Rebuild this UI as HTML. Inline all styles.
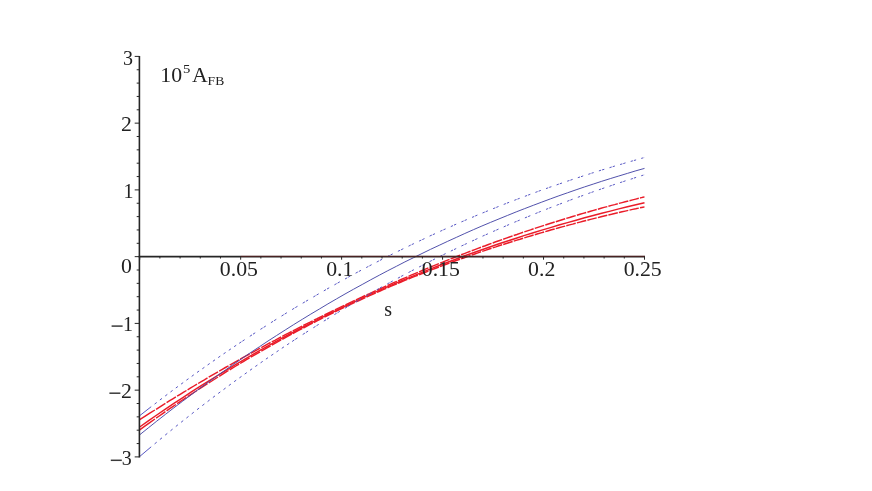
<!DOCTYPE html>
<html><head><meta charset="utf-8"><style>
html,body{margin:0;padding:0;background:#fff;}
svg{display:block;will-change:transform}
text{font-family:"Liberation Serif",serif;font-size:20px;fill:#222}
</style></head><body>
<svg width="872" height="491" viewBox="0 0 872 491">
<rect width="872" height="491" fill="#fff"/>
<path d="M139.7,419.7 L144.8,416.4 L149.8,413.2 L154.9,410.0 M156.1,409.3 L159.2,407.3 L162.3,405.3 L165.4,403.4 M166.6,402.7 L169.7,400.7 L172.8,398.8 L175.9,396.9 M177.1,396.2 L180.2,394.3 L183.3,392.4 L186.5,390.5 M187.6,389.8 L190.7,387.9 L193.9,386.0 L197.0,384.1 M198.1,383.5 L201.3,381.6 L204.4,379.8 L207.5,377.9 M208.7,377.2 L211.8,375.4 L214.9,373.6 L218.0,371.8 M219.2,371.1 L222.3,369.3 L225.4,367.5 L228.5,365.8 M229.7,365.1 L232.8,363.3 L235.9,361.6 L239.1,359.8 M240.2,359.2 L243.3,357.4 L246.5,355.7 L249.6,354.0 M250.7,353.3 L253.9,351.6 L257.0,349.9 L260.1,348.2 M261.3,347.6 L264.4,345.9 L267.5,344.2 L270.6,342.5 M271.8,341.9 L274.9,340.3 L278.0,338.6 L281.1,337.0 M282.3,336.4 L285.4,334.7 L288.5,333.1 L291.7,331.5 M292.8,330.9 L295.9,329.3 L299.1,327.7 L302.2,326.1 M303.3,325.5 L306.5,323.9 L309.6,322.4 L312.7,320.8 M313.9,320.2 L317.0,318.7 L320.1,317.1 L323.2,315.6 M324.4,315.0 L327.5,313.5 L330.6,312.0 L333.7,310.4 M334.9,309.9 L338.0,308.4 L341.1,306.9 L344.3,305.4 M345.4,304.8 L348.5,303.4 L351.7,301.9 L354.8,300.4 M355.9,299.9 L359.1,298.4 L362.2,297.0 L365.3,295.5 M366.5,295.0 L369.6,293.6 L372.7,292.1 L375.8,290.7 M377.0,290.2 L380.1,288.8 L383.2,287.4 L386.3,286.0 M387.5,285.5 L390.6,284.1 L393.7,282.7 L396.9,281.3 M398.0,280.8 L401.1,279.5 L404.3,278.1 L407.4,276.8 M408.5,276.3 L411.7,274.9 L414.8,273.6 L417.9,272.3 M419.1,271.8 L422.2,270.5 L425.3,269.2 L428.4,267.9 M429.6,267.4 L432.7,266.1 L435.8,264.8 L438.9,263.6 M440.1,263.1 L443.2,261.9 L446.3,260.6 L449.5,259.4 M450.6,258.9 L453.7,257.7 L456.9,256.4 L460.0,255.2 M461.1,254.8 L464.3,253.6 L467.4,252.4 L470.5,251.2 M471.7,250.8 L474.8,249.6 L477.9,248.4 L481.0,247.2 M482.2,246.8 L485.3,245.7 L488.4,244.5 L491.5,243.4 M492.7,243.0 L495.8,241.8 L498.9,240.7 L502.1,239.6 M503.2,239.2 L506.3,238.1 L509.5,237.0 L512.6,235.9 M513.7,235.5 L516.9,234.5 L520.0,233.4 L523.1,232.3 M524.3,231.9 L527.4,230.9 L530.5,229.9 L533.6,228.8 M534.8,228.4 L537.9,227.4 L541.0,226.4 L544.1,225.4 M545.3,225.0 L548.4,224.0 L551.5,223.0 L554.7,222.0 M555.8,221.7 L558.9,220.7 L562.1,219.7 L565.2,218.8 M566.3,218.4 L569.5,217.5 L572.6,216.5 L575.7,215.6 M576.9,215.3 L580.0,214.3 L583.1,213.4 L586.2,212.5 M587.4,212.2 L590.5,211.3 L593.6,210.4 L596.7,209.5 M597.9,209.2 L601.0,208.3 L604.1,207.4 L607.3,206.6 M608.4,206.3 L611.5,205.4 L614.7,204.6 L617.8,203.7 M618.9,203.4 L622.1,202.6 L625.2,201.8 L628.3,201.0 M629.5,200.7 L632.6,199.9 L635.7,199.1 L638.8,198.3 M640.0,198.0 L641.5,197.6 L643.0,197.2 L644.5,196.9" fill="none" stroke="#ea1c29" stroke-width="1.45"/>
<path d="M139.7,429.9 L144.8,426.2 L149.8,422.6 L154.9,419.0 M156.1,418.2 L159.2,416.0 L162.3,413.8 L165.4,411.7 M166.6,410.9 L169.7,408.7 L172.8,406.6 L175.9,404.5 M177.1,403.7 L180.2,401.6 L183.3,399.5 L186.5,397.4 M187.6,396.6 L190.7,394.6 L193.9,392.5 L197.0,390.5 M198.1,389.7 L201.3,387.7 L204.4,385.7 L207.5,383.7 M208.7,383.0 L211.8,381.0 L214.9,379.0 L218.0,377.0 M219.2,376.3 L222.3,374.4 L225.4,372.4 L228.5,370.5 M229.7,369.8 L232.8,367.9 L235.9,366.0 L239.1,364.1 M240.2,363.5 L243.3,361.6 L246.5,359.7 L249.6,357.9 M250.7,357.2 L253.9,355.4 L257.0,353.6 L260.1,351.8 M261.3,351.1 L264.4,349.3 L267.5,347.5 L270.6,345.8 M271.8,345.1 L274.9,343.4 L278.0,341.6 L281.1,339.9 M282.3,339.3 L285.4,337.6 L288.5,335.9 L291.7,334.2 M292.8,333.6 L295.9,331.9 L299.1,330.2 L302.2,328.6 M303.3,328.0 L306.5,326.3 L309.6,324.7 L312.7,323.1 M313.9,322.5 L317.0,320.9 L320.1,319.3 L323.2,317.7 M324.4,317.2 L327.5,315.6 L330.6,314.0 L333.7,312.5 M334.9,311.9 L338.0,310.4 L341.1,308.9 L344.3,307.4 M345.4,306.9 L348.5,305.4 L351.7,303.9 L354.8,302.4 M355.9,301.9 L359.1,300.5 L362.2,299.0 L365.3,297.6 M366.5,297.1 L369.6,295.7 L372.7,294.3 L375.8,292.9 M377.0,292.4 L380.1,291.0 L383.2,289.6 L386.3,288.3 M387.5,287.8 L390.6,286.4 L393.7,285.1 L396.9,283.8 M398.0,283.3 L401.1,282.0 L404.3,280.7 L407.4,279.4 M408.5,279.0 L411.7,277.7 L414.8,276.4 L417.9,275.2 M419.1,274.7 L422.2,273.5 L425.3,272.3 L428.4,271.0 M429.6,270.6 L432.7,269.4 L435.8,268.2 L438.9,267.0 M440.1,266.6 L443.2,265.4 L446.3,264.2 L449.5,263.0 M450.6,262.6 L453.7,261.5 L456.9,260.3 L460.0,259.2 M461.1,258.8 L464.3,257.7 L467.4,256.6 L470.5,255.5 M471.7,255.1 L474.8,254.0 L477.9,252.9 L481.0,251.8 M482.2,251.4 L485.3,250.4 L488.4,249.3 L491.5,248.3 M492.7,247.9 L495.8,246.9 L498.9,245.8 L502.1,244.8 M503.2,244.5 L506.3,243.5 L509.5,242.5 L512.6,241.5 M513.7,241.1 L516.9,240.1 L520.0,239.2 L523.1,238.2 M524.3,237.9 L527.4,236.9 L530.5,236.0 L533.6,235.0 M534.8,234.7 L537.9,233.8 L541.0,232.9 L544.1,232.0 M545.3,231.6 L548.4,230.7 L551.5,229.8 L554.7,229.0 M555.8,228.6 L558.9,227.8 L562.1,226.9 L565.2,226.1 M566.3,225.7 L569.5,224.9 L572.6,224.1 L575.7,223.2 M576.9,222.9 L580.0,222.1 L583.1,221.3 L586.2,220.5 M587.4,220.2 L590.5,219.4 L593.6,218.6 L596.7,217.9 M597.9,217.6 L601.0,216.8 L604.1,216.0 L607.3,215.3 M608.4,215.0 L611.5,214.3 L614.7,213.5 L617.8,212.8 M618.9,212.5 L622.1,211.8 L625.2,211.1 L628.3,210.4 M629.5,210.1 L632.6,209.4 L635.7,208.8 L638.8,208.1 M640.0,207.8 L641.5,207.5 L643.0,207.2 L644.5,206.9" fill="none" stroke="#ea1c29" stroke-width="1.45"/>
<path d="M139.7,427.0 L148.3,420.9 L156.8,415.0 L165.4,409.2 L173.9,403.4 L182.5,397.8 L191.0,392.2 L199.6,386.7 L208.1,381.3 L216.7,376.0 L225.3,370.8 L233.8,365.7 L242.4,360.6 L250.9,355.6 L259.5,350.7 L268.0,345.9 L276.6,341.2 L285.2,336.5 L293.7,332.0 L302.3,327.5 L310.8,323.1 L319.4,318.7 L327.9,314.5 L336.5,310.3 L345.0,306.1 L353.6,302.1 L362.2,298.1 L370.7,294.2 L379.3,290.4 L387.8,286.6 L396.4,283.0 L404.9,279.3 L413.5,275.8 L422.0,272.3 L430.6,268.9 L439.2,265.5 L447.7,262.2 L456.3,259.0 L464.8,255.8 L473.4,252.8 L481.9,249.7 L490.5,246.7 L499.0,243.8 L507.6,241.0 L516.2,238.2 L524.7,235.4 L533.3,232.8 L541.8,230.1 L550.4,227.6 L558.9,225.0 L567.5,222.6 L576.1,220.2 L584.6,217.8 L593.2,215.5 L601.7,213.3 L610.3,211.1 L618.8,208.9 L627.4,206.8 L635.9,204.8 L644.5,202.7" fill="none" stroke="#ea1c29" stroke-width="1.45"/>
<path d="M139.7,415.7 L151.2,406.7 M154.6,404.1 L156.7,402.5 M159.9,400.0 L162.0,398.4 M165.2,396.0 L167.3,394.4 M170.5,392.0 L172.6,390.4 M175.8,388.0 L177.9,386.5 M181.1,384.1 L183.2,382.6 M186.4,380.2 L188.5,378.7 M191.7,376.4 L193.8,374.8 M197.0,372.5 L199.1,371.0 M202.3,368.8 L204.4,367.3 M207.6,365.0 L209.7,363.5 M212.9,361.3 L215.0,359.8 M218.2,357.6 L220.3,356.1 M223.5,353.9 L225.6,352.5 M228.8,350.3 L230.9,348.9 M234.1,346.7 L236.2,345.3 M239.2,343.3 L241.4,341.8 M242.4,341.2 L244.6,339.7 M249.8,336.3 L252.0,334.9 M253.0,334.2 L255.2,332.8 M260.4,329.4 L262.6,328.0 M263.6,327.4 L265.8,326.0 M270.9,322.7 L273.1,321.3 M274.1,320.7 L276.3,319.3 M281.5,316.1 L283.7,314.7 M284.7,314.1 L286.9,312.7 M292.1,309.6 L294.3,308.2 M295.3,307.6 L297.5,306.3 M302.7,303.2 L304.9,301.9 M305.9,301.3 L308.1,300.0 M313.3,297.0 L315.5,295.7 M316.5,295.1 L318.7,293.8 M323.8,290.9 L326.0,289.6 M327.0,289.0 L329.2,287.8 M334.4,284.9 L336.6,283.6 M337.6,283.1 L339.8,281.8 M345.0,279.0 L347.2,277.8 M348.2,277.2 L350.4,276.0 M355.6,273.2 L357.8,272.0 M358.8,271.5 L361.0,270.3 M366.2,267.6 L368.4,266.4 M369.4,265.9 L371.6,264.7 M376.7,262.1 L378.9,260.9 M379.9,260.4 L382.1,259.3 M387.3,256.6 L389.5,255.5 M390.5,255.0 L392.7,253.9 M397.9,251.3 L400.1,250.3 M401.1,249.8 L403.3,248.7 M408.5,246.2 L410.7,245.1 M411.7,244.6 L413.9,243.6 M419.1,241.1 L421.3,240.1 M422.3,239.6 L424.5,238.6 M429.6,236.1 L431.8,235.1 M432.8,234.7 L435.0,233.7 M440.2,231.3 L442.4,230.3 M443.4,229.8 L445.6,228.9 M450.8,226.6 L453.0,225.6 M454.0,225.1 L456.2,224.2 M461.4,221.9 L463.6,221.0 M464.6,220.5 L466.8,219.6 M472.0,217.4 L474.2,216.5 M475.2,216.0 L477.4,215.1 M482.5,213.0 L484.7,212.1 M485.7,211.7 L487.9,210.8 M493.1,208.7 L495.3,207.8 M496.3,207.4 L498.5,206.5 M503.7,204.4 L505.9,203.6 M506.9,203.2 L509.1,202.3 M514.3,200.3 L516.5,199.5 M517.5,199.1 L519.7,198.3 M524.9,196.3 L527.1,195.5 M528.1,195.1 L530.3,194.3 M535.4,192.4 L537.6,191.6 M538.6,191.2 L540.8,190.4 M546.0,188.6 L548.2,187.8 M549.2,187.4 L551.4,186.7 M556.6,184.9 L558.8,184.1 M559.8,183.8 L562.0,183.0 M567.2,181.2 L569.4,180.5 M570.4,180.2 L572.6,179.4 M577.8,177.7 L580.0,177.0 M581.0,176.7 L583.2,175.9 M588.3,174.3 L590.5,173.6 M591.5,173.2 L593.7,172.6 M598.9,170.9 L601.1,170.2 M602.1,169.9 L604.3,169.3 M609.5,167.7 L611.7,167.0 M612.7,166.7 L614.9,166.0 M620.1,164.5 L622.3,163.9 M623.3,163.6 L625.5,162.9 M630.7,161.4 L632.9,160.8 M633.9,160.5 L636.1,159.9 M641.2,158.4 L643.4,157.8 M644.4,157.6 L644.5,157.5" fill="none" stroke="#5858c4" stroke-width="1"/>
<path d="M139.7,456.5 L151.2,446.8 M154.6,443.9 L156.7,442.2 M159.9,439.5 L162.0,437.8 M165.2,435.1 L167.3,433.4 M170.5,430.8 L172.6,429.1 M175.8,426.5 L177.9,424.8 M181.1,422.3 L183.2,420.6 M186.4,418.1 L188.5,416.4 M191.7,413.9 L193.8,412.2 M197.0,409.7 L199.1,408.1 M202.3,405.6 L204.4,404.0 M207.6,401.6 L209.7,399.9 M212.9,397.5 L215.0,395.9 M218.2,393.5 L220.3,391.9 M223.5,389.6 L225.6,388.0 M228.8,385.6 L230.9,384.1 M234.1,381.7 L236.2,380.2 M239.4,377.9 L241.5,376.4 M244.7,374.1 L246.8,372.6 M250.0,370.3 L252.1,368.8 M255.3,366.5 L257.4,365.1 M260.6,362.8 L262.7,361.4 M265.9,359.1 L268.0,357.7 M271.2,355.5 L273.3,354.1 M276.5,351.9 L278.6,350.5 M281.8,348.3 L283.9,346.9 M287.1,344.8 L289.2,343.4 M292.1,341.5 L294.3,340.0 M295.3,339.4 L297.5,337.9 M302.7,334.5 L304.9,333.1 M305.9,332.5 L308.1,331.1 M313.3,327.8 L315.5,326.4 M316.5,325.7 L318.7,324.4 M323.8,321.1 L326.0,319.8 M327.0,319.1 L329.2,317.8 M334.4,314.6 L336.6,313.3 M337.6,312.7 L339.8,311.3 M345.0,308.2 L347.2,306.9 M348.2,306.3 L350.4,305.0 M355.6,302.0 L357.8,300.7 M358.8,300.1 L361.0,298.8 M366.2,295.8 L368.4,294.6 M369.4,294.0 L371.6,292.7 M376.7,289.8 L378.9,288.6 M379.9,288.0 L382.1,286.8 M387.3,283.9 L389.5,282.7 M390.5,282.2 L392.7,281.0 M397.9,278.2 L400.1,277.0 M401.1,276.4 L403.3,275.3 M408.5,272.5 L410.7,271.4 M411.7,270.8 L413.9,269.7 M419.1,267.0 L421.3,265.9 M422.3,265.3 L424.5,264.2 M429.6,261.6 L431.8,260.5 M432.8,260.0 L435.0,258.9 M440.2,256.3 L442.4,255.2 M443.4,254.7 L445.6,253.6 M450.8,251.1 L453.0,250.0 M454.0,249.6 L456.2,248.5 M461.4,246.0 L463.6,245.0 M464.6,244.5 L466.8,243.5 M472.0,241.1 L474.2,240.1 M475.2,239.6 L477.4,238.6 M482.5,236.2 L484.7,235.2 M485.7,234.8 L487.9,233.8 M493.1,231.5 L495.3,230.5 M496.3,230.1 L498.5,229.1 M503.7,226.9 L505.9,225.9 M506.9,225.5 L509.1,224.5 M514.3,222.3 L516.5,221.4 M517.5,221.0 L519.7,220.1 M524.9,217.9 L527.1,217.0 M528.1,216.6 L530.3,215.7 M535.4,213.6 L537.6,212.7 M538.6,212.3 L540.8,211.4 M546.0,209.4 L548.2,208.5 M549.2,208.1 L551.4,207.3 M556.6,205.3 L558.8,204.4 M559.8,204.1 L562.0,203.2 M567.2,201.3 L569.4,200.4 M570.4,200.1 L572.6,199.2 M577.8,197.3 L580.0,196.5 M581.0,196.2 L583.2,195.4 M588.3,193.5 L590.5,192.7 M591.5,192.4 L593.7,191.6 M598.9,189.8 L601.1,189.0 M602.1,188.7 L604.3,187.9 M609.5,186.2 L611.7,185.4 M612.7,185.1 L614.9,184.3 M620.1,182.6 L622.3,181.9 M623.3,181.6 L625.5,180.8 M630.7,179.2 L632.9,178.5 M633.9,178.1 L636.1,177.4 M641.2,175.8 L643.4,175.1 M644.4,174.8 L644.5,174.8" fill="none" stroke="#5858c4" stroke-width="1"/>
<path d="M139.7,434.8 L148.3,427.9 L156.8,421.1 L165.4,414.4 L173.9,407.8 L182.5,401.3 L191.0,394.9 L199.6,388.5 L208.1,382.3 L216.7,376.1 L225.3,370.1 L233.8,364.1 L242.4,358.2 L250.9,352.4 L259.5,346.7 L268.0,341.0 L276.6,335.5 L285.2,330.0 L293.7,324.6 L302.3,319.3 L310.8,314.1 L319.4,309.0 L327.9,303.9 L336.5,298.9 L345.0,294.0 L353.6,289.2 L362.2,284.5 L370.7,279.8 L379.3,275.2 L387.8,270.7 L396.4,266.3 L404.9,261.9 L413.5,257.7 L422.0,253.5 L430.6,249.3 L439.2,245.3 L447.7,241.3 L456.3,237.4 L464.8,233.5 L473.4,229.7 L481.9,226.0 L490.5,222.4 L499.0,218.9 L507.6,215.4 L516.2,211.9 L524.7,208.6 L533.3,205.3 L541.8,202.1 L550.4,198.9 L558.9,195.8 L567.5,192.8 L576.1,189.8 L584.6,186.9 L593.2,184.1 L601.7,181.3 L610.3,178.6 L618.8,176.0 L627.4,173.4 L635.9,170.8 L644.5,168.4" fill="none" stroke="#4848a6" stroke-width="0.95"/>
<line x1="139.4" y1="55.9" x2="139.4" y2="457.4" stroke="#262626" stroke-width="1.6"/>
<line x1="138.6" y1="256.6" x2="645.0" y2="256.6" stroke="#262626" stroke-width="1.6"/>
<line x1="240.7" y1="256.25" x2="645.0" y2="256.25" stroke="#b01818" stroke-width="1.0" opacity="0.33"/>
<line x1="134.70" y1="56.40" x2="139.4" y2="56.40" stroke="#262626" stroke-width="1"/>
<line x1="136.70" y1="69.75" x2="139.4" y2="69.75" stroke="#262626" stroke-width="1"/>
<line x1="136.70" y1="83.10" x2="139.4" y2="83.10" stroke="#262626" stroke-width="1"/>
<line x1="136.70" y1="96.45" x2="139.4" y2="96.45" stroke="#262626" stroke-width="1"/>
<line x1="136.70" y1="109.80" x2="139.4" y2="109.80" stroke="#262626" stroke-width="1"/>
<line x1="134.70" y1="123.15" x2="139.4" y2="123.15" stroke="#262626" stroke-width="1"/>
<line x1="136.70" y1="136.50" x2="139.4" y2="136.50" stroke="#262626" stroke-width="1"/>
<line x1="136.70" y1="149.85" x2="139.4" y2="149.85" stroke="#262626" stroke-width="1"/>
<line x1="136.70" y1="163.20" x2="139.4" y2="163.20" stroke="#262626" stroke-width="1"/>
<line x1="136.70" y1="176.55" x2="139.4" y2="176.55" stroke="#262626" stroke-width="1"/>
<line x1="134.70" y1="189.90" x2="139.4" y2="189.90" stroke="#262626" stroke-width="1"/>
<line x1="136.70" y1="203.25" x2="139.4" y2="203.25" stroke="#262626" stroke-width="1"/>
<line x1="136.70" y1="216.60" x2="139.4" y2="216.60" stroke="#262626" stroke-width="1"/>
<line x1="136.70" y1="229.95" x2="139.4" y2="229.95" stroke="#262626" stroke-width="1"/>
<line x1="136.70" y1="243.30" x2="139.4" y2="243.30" stroke="#262626" stroke-width="1"/>
<line x1="134.70" y1="256.65" x2="139.4" y2="256.65" stroke="#262626" stroke-width="1"/>
<line x1="136.70" y1="270.00" x2="139.4" y2="270.00" stroke="#262626" stroke-width="1"/>
<line x1="136.70" y1="283.35" x2="139.4" y2="283.35" stroke="#262626" stroke-width="1"/>
<line x1="136.70" y1="296.70" x2="139.4" y2="296.70" stroke="#262626" stroke-width="1"/>
<line x1="136.70" y1="310.05" x2="139.4" y2="310.05" stroke="#262626" stroke-width="1"/>
<line x1="134.70" y1="323.40" x2="139.4" y2="323.40" stroke="#262626" stroke-width="1"/>
<line x1="136.70" y1="336.75" x2="139.4" y2="336.75" stroke="#262626" stroke-width="1"/>
<line x1="136.70" y1="350.10" x2="139.4" y2="350.10" stroke="#262626" stroke-width="1"/>
<line x1="136.70" y1="363.45" x2="139.4" y2="363.45" stroke="#262626" stroke-width="1"/>
<line x1="136.70" y1="376.80" x2="139.4" y2="376.80" stroke="#262626" stroke-width="1"/>
<line x1="134.70" y1="390.15" x2="139.4" y2="390.15" stroke="#262626" stroke-width="1"/>
<line x1="136.70" y1="403.50" x2="139.4" y2="403.50" stroke="#262626" stroke-width="1"/>
<line x1="136.70" y1="416.85" x2="139.4" y2="416.85" stroke="#262626" stroke-width="1"/>
<line x1="136.70" y1="430.20" x2="139.4" y2="430.20" stroke="#262626" stroke-width="1"/>
<line x1="136.70" y1="443.55" x2="139.4" y2="443.55" stroke="#262626" stroke-width="1"/>
<line x1="134.70" y1="456.90" x2="139.4" y2="456.90" stroke="#262626" stroke-width="1"/>
<line x1="139.70" y1="256.6" x2="139.70" y2="259.70000000000005" stroke="#262626" stroke-width="1"/>
<line x1="159.89" y1="256.6" x2="159.89" y2="258.5" stroke="#262626" stroke-width="1"/>
<line x1="180.08" y1="256.6" x2="180.08" y2="258.5" stroke="#262626" stroke-width="1"/>
<line x1="200.28" y1="256.6" x2="200.28" y2="258.5" stroke="#262626" stroke-width="1"/>
<line x1="220.47" y1="256.6" x2="220.47" y2="258.5" stroke="#262626" stroke-width="1"/>
<line x1="240.66" y1="256.6" x2="240.66" y2="259.70000000000005" stroke="#262626" stroke-width="1"/>
<line x1="260.85" y1="256.6" x2="260.85" y2="258.5" stroke="#262626" stroke-width="1"/>
<line x1="281.04" y1="256.6" x2="281.04" y2="258.5" stroke="#262626" stroke-width="1"/>
<line x1="301.24" y1="256.6" x2="301.24" y2="258.5" stroke="#262626" stroke-width="1"/>
<line x1="321.43" y1="256.6" x2="321.43" y2="258.5" stroke="#262626" stroke-width="1"/>
<line x1="341.62" y1="256.6" x2="341.62" y2="259.70000000000005" stroke="#262626" stroke-width="1"/>
<line x1="361.81" y1="256.6" x2="361.81" y2="258.5" stroke="#262626" stroke-width="1"/>
<line x1="382.00" y1="256.6" x2="382.00" y2="258.5" stroke="#262626" stroke-width="1"/>
<line x1="402.20" y1="256.6" x2="402.20" y2="258.5" stroke="#262626" stroke-width="1"/>
<line x1="422.39" y1="256.6" x2="422.39" y2="258.5" stroke="#262626" stroke-width="1"/>
<line x1="442.58" y1="256.6" x2="442.58" y2="259.70000000000005" stroke="#262626" stroke-width="1"/>
<line x1="462.77" y1="256.6" x2="462.77" y2="258.5" stroke="#262626" stroke-width="1"/>
<line x1="482.96" y1="256.6" x2="482.96" y2="258.5" stroke="#262626" stroke-width="1"/>
<line x1="503.16" y1="256.6" x2="503.16" y2="258.5" stroke="#262626" stroke-width="1"/>
<line x1="523.35" y1="256.6" x2="523.35" y2="258.5" stroke="#262626" stroke-width="1"/>
<line x1="543.54" y1="256.6" x2="543.54" y2="259.70000000000005" stroke="#262626" stroke-width="1"/>
<line x1="563.73" y1="256.6" x2="563.73" y2="258.5" stroke="#262626" stroke-width="1"/>
<line x1="583.92" y1="256.6" x2="583.92" y2="258.5" stroke="#262626" stroke-width="1"/>
<line x1="604.12" y1="256.6" x2="604.12" y2="258.5" stroke="#262626" stroke-width="1"/>
<line x1="624.31" y1="256.6" x2="624.31" y2="258.5" stroke="#262626" stroke-width="1"/>
<line x1="644.50" y1="256.6" x2="644.50" y2="259.70000000000005" stroke="#262626" stroke-width="1"/>
<text transform="translate(133.1,64.6) scale(1.0,1)" text-anchor="end">3</text>
<text transform="translate(132.0,131.1) scale(1.09,1)" text-anchor="end">2</text>
<text transform="translate(133.6,198.0) scale(1.0,1)" text-anchor="end">1</text>
<text transform="translate(132.0,272.8) scale(1.09,1)" text-anchor="end">0</text>
<text transform="translate(132.9,330.9) scale(1.0,1)" text-anchor="end">1</text>
<line x1="111.6" y1="326.1" x2="122.6" y2="326.1" stroke="#3a3a3a" stroke-width="1.5"/>
<text transform="translate(132.0,398.0) scale(1.09,1)" text-anchor="end">2</text>
<line x1="109.4" y1="393.2" x2="120.4" y2="393.2" stroke="#3a3a3a" stroke-width="1.5"/>
<text transform="translate(131.8,465.1) scale(1.0,1)" text-anchor="end">3</text>
<line x1="110.8" y1="460.3" x2="121.8" y2="460.3" stroke="#3a3a3a" stroke-width="1.5"/>
<text transform="translate(238.9,276.3) scale(1.09,1)" text-anchor="middle">0.05</text>
<text transform="translate(339.8,276.3) scale(1.09,1)" text-anchor="middle">0.1</text>
<text transform="translate(440.8,276.3) scale(1.09,1)" text-anchor="middle">0.15</text>
<text transform="translate(541.7,276.3) scale(1.09,1)" text-anchor="middle">0.2</text>
<text transform="translate(642.7,276.3) scale(1.09,1)" text-anchor="middle">0.25</text>
<text x="384.3" y="316.4">s</text>
<text transform="translate(160.3,82.0) scale(1.09,1)" text-anchor="start">10</text>
<text transform="translate(183.0,73.2) scale(1.09,1)" text-anchor="start" style="font-size:13.5px">5</text>
<text transform="translate(192.0,82.0) scale(1.09,1)" text-anchor="start">A</text>
<text transform="translate(207.6,85.0) scale(1.09,1)" text-anchor="start" style="font-size:12.5px">FB</text>
</svg></body></html>
